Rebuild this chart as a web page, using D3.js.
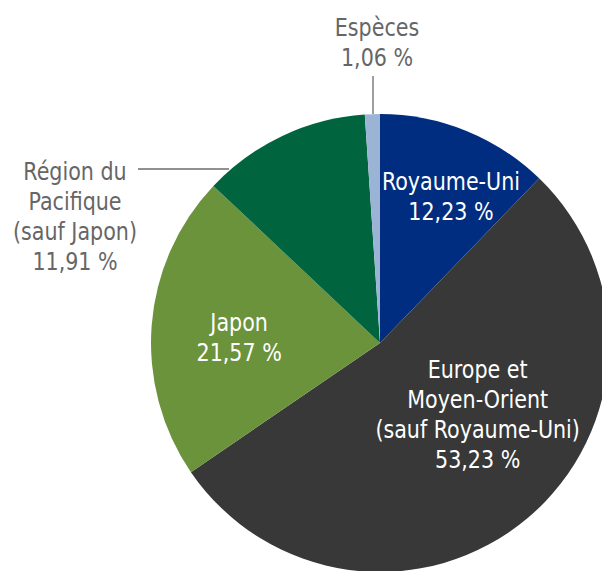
<!DOCTYPE html>
<html>
<head>
<meta charset="utf-8">
<script src="https://cdn.jsdelivr.net/npm/d3@7"></script>
<style>
  body { margin: 0; background: #fff; }
  text { font-family: "DejaVu Sans Condensed", "DejaVu Sans", sans-serif; font-stretch: condensed; }
</style>
</head>
<body>
<svg id="pie" width="602" height="571"></svg>
<script>
// Part 1: data
const regions = ["Royaume-Uni", "Europe et Moyen-Orient (sauf Royaume-Uni)", "Japon", "Région du Pacifique (sauf Japon)", "Espèces"];
const shares = [12.23, 53.23, 21.57, 11.91, 1.06];
const labelLines = [
    ["Royaume-Uni", "12,23 %"],
    ["Europe et", "Moyen-Orient", "(sauf Royaume-Uni)", "53,23 %"],
    ["Japon", "21,57 %"],
    ["Région du", "Pacifique", "(sauf Japon)", "11,91 %"],
    ["Espèces", "1,06 %"]
];
const colors = ["#002d7f", "#383838", "#6a933b", "#00653f", "#9bb3d4"];

// Part 2: svg and layout
const svg = d3.select("#pie");
const cx = 380, cy = 343, radius = 229;
const lineH = 30;
const fontSize = 25.5;
const squeeze = 0.9;

const chart = svg.append("g")
                 .attr("transform", `translate(${cx}, ${cy})`);

// Part 3: pie + arcs
const pie = d3.pie().sort(null).value(d => d.value);
const arcs = pie(shares.map((v, i) => ({value: v, name: regions[i], i: i})));
const arc = d3.arc().innerRadius(0).outerRadius(radius);

chart.selectAll("path")
     .data(arcs)
     .join("path")
     .attr("d", arc)
     .attr("fill", d => colors[d.data.i]);

// where each label sits: inside (polar, degrees from 12 o'clock) or outside
const placement = [
    {inside: true, angle: 25.8, r: 163},
    {inside: true, angle: 126.2, r: 121},
    {inside: true, angle: 272.4, r: 141},
    {inside: false, x: -305, y: -172, leader: [[-242, -174], [-151, -174]]},
    {inside: false, x: -3, y: -316, leader: [[-7, -267], [-7, -229]]}
];

const toXY = (deg, r) => {
    const a = deg * Math.PI / 180;
    return [Math.sin(a) * r, -Math.cos(a) * r];
};

arcs.forEach((d, i) => {
    const p = placement[i];
    const lines = labelLines[i];
    let x, y;
    if (p.inside) {
        [x, y] = toXY(p.angle, p.r);
        y = y - (lines.length - 1) * lineH / 2;
    } else {
        x = p.x; y = p.y;
        chart.append("path")
             .attr("d", d3.line()(p.leader))
             .attr("stroke", "#6b6b6b")
             .attr("stroke-width", 1.3)
             .attr("fill", "none");
    }
    const t = chart.append("text")
                   .attr("transform", `translate(${x}, ${y}) scale(${squeeze}, 1)`)
                   .attr("text-anchor", "middle")
                   .attr("font-size", fontSize)
                   .attr("fill", p.inside ? "#fff" : "#666");
    lines.forEach((line, k) => {
        t.append("tspan")
         .attr("x", 0)
         .attr("y", k * lineH)
         .attr("dy", "0.35em")
         .text(line);
    });
});
</script>
</body>
</html>
